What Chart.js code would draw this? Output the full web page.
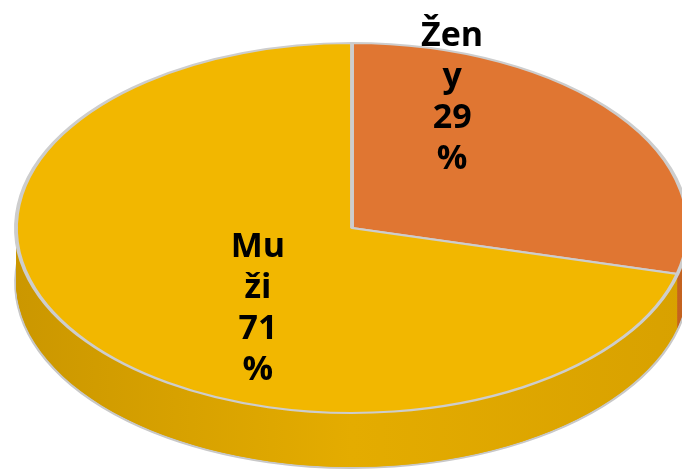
<!DOCTYPE html>
<html>
<head>
<meta charset="utf-8">
<script src="https://cdn.jsdelivr.net/npm/chart.js@4"></script>
<style>
  html, body { margin: 0; padding: 0; background: #fff; }
  #wrap { width: 682px; height: 473px; }
</style>
</head>
<body>
<div id="wrap"><canvas id="pie" width="682" height="473"></canvas></div>
<script>
// Pull out information
var categories = ['Ženy', 'Muži'];
var shares = [29, 71];
var labelLines = [['Žen', 'y'], ['Mu', 'ži']];

// look of the 3D pie
var topColors = ['#E07632', '#F2B700'];
var sideColors = [
    ['#B95A1C', '#CF6A28', '#C4621F'],
    ['#CB9700', '#E4AC00', '#D8A100']
];
var RX = 336, RY = 185, DEPTH = 55;
// label block centre, as a fraction of RX / RY from the pie centre
var labelPos = [[0.298, -0.703], [-0.28, 0.438]];

function slicePath(ctx, arc) {
    ctx.beginPath();
    ctx.moveTo(arc.x, arc.y);
    ctx.arc(arc.x, arc.y, arc.outerRadius, arc.startAngle, arc.endAngle);
    ctx.closePath();
}

function squash(ctx, arc, dy) {
    var r = arc.outerRadius;
    ctx.translate(arc.x, arc.y + dy);
    ctx.scale(RX / r, RY / r);
    ctx.translate(-arc.x, -arc.y);
}

var pie3d = {
    id: 'pie3d',
    beforeDatasetsDraw: function(chart) {
        var ctx = chart.ctx;
        var arcs = chart.getDatasetMeta(0).data;
        var a0 = arcs[0], r = a0.outerRadius;
        var fills = sideColors.map(function(c) {
            var g = ctx.createLinearGradient(a0.x - r, 0, a0.x + r, 0);
            g.addColorStop(0, c[0]);
            g.addColorStop(0.5, c[1]);
            g.addColorStop(1, c[2]);
            return g;
        });
        // side walls, stacked from the bottom up
        for (var d = DEPTH; d >= 1; d--) {
            ctx.save();
            squash(ctx, a0, d);
            arcs.forEach(function(arc, i) {
                slicePath(ctx, arc);
                ctx.fillStyle = fills[i];
                ctx.fill();
                if (d === DEPTH) {
                    ctx.beginPath();
                    ctx.arc(arc.x, arc.y, r, arc.startAngle, arc.endAngle);
                    ctx.lineWidth = 2 * r / RY;
                    ctx.strokeStyle = '#C8C8C8';
                    ctx.stroke();
                }
            });
            ctx.restore();
        }
        // top face is drawn by Chart.js inside this squash
        ctx.save();
        squash(ctx, a0, 0);
    },
    afterDatasetsDraw: function(chart) {
        chart.ctx.restore();
    },
    afterDraw: function(chart) {
        var ctx = chart.ctx;
        var arcs = chart.getDatasetMeta(0).data;
        ctx.save();
        ctx.fillStyle = '#000';
        ctx.font = 'bold 34px "Open Sans"';
        ctx.textAlign = 'center';
        ctx.textBaseline = 'middle';
        arcs.forEach(function(arc, i) {
            var lines = labelLines[i].concat([String(shares[i]), '%']);
            var bx = arc.x + labelPos[i][0] * RX;
            var by = arc.y + labelPos[i][1] * RY;
            lines.forEach(function(t, k) {
                ctx.fillText(t, bx, by + (k - (lines.length - 1) / 2) * 41);
            });
        });
        ctx.restore();
    }
};

new Chart(document.getElementById('pie'), {
    type: 'pie',
    data: {
        labels: categories,
        datasets: [{
            data: shares,
            backgroundColor: topColors,
            borderColor: '#CDCDCD',
            borderWidth: 2.5,
            clip: false
        }]
    },
    options: {
        responsive: false,
        animation: false,
        layout: { padding: { left: 122, right: 100, top: 10, bottom: 27 } },
        plugins: {
            legend: { display: false },
            tooltip: { enabled: false }
        }
    },
    plugins: [pie3d]
});
</script>
</body>
</html>
